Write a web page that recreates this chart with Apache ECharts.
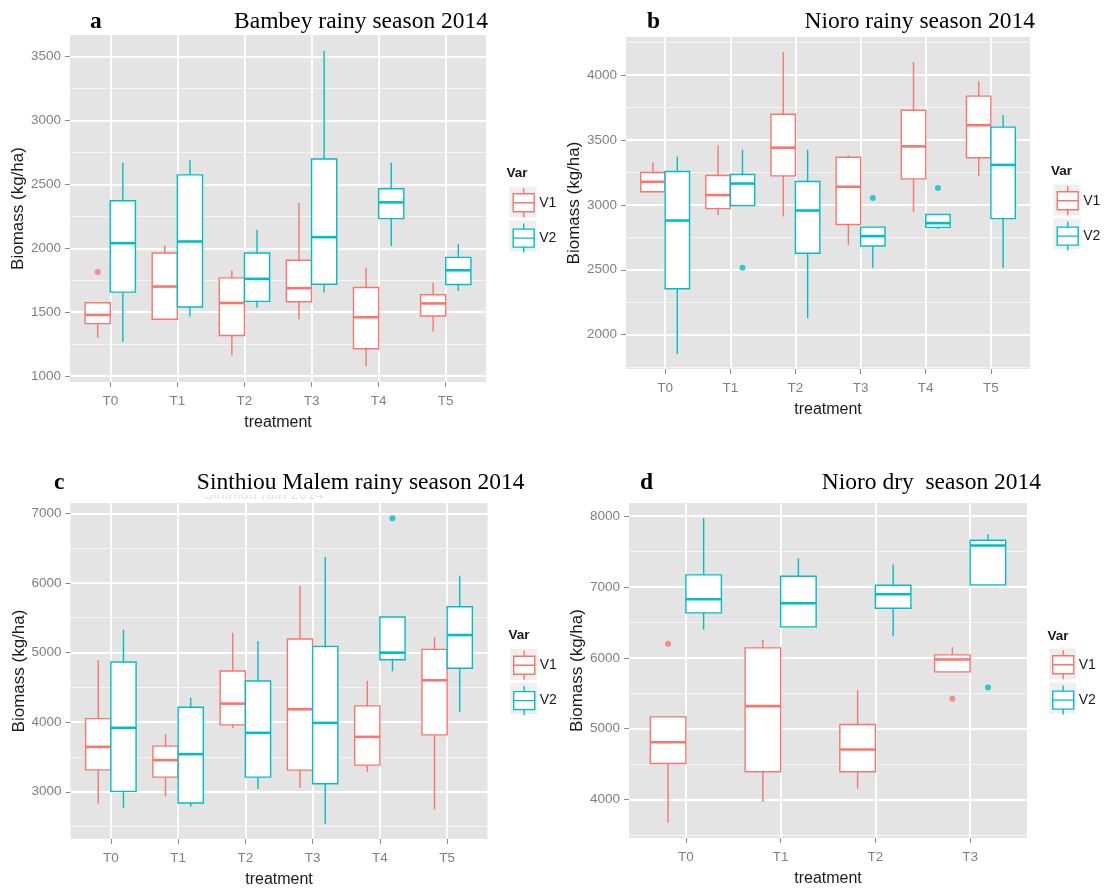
<!DOCTYPE html>
<html>
<head>
<meta charset="utf-8">
<title>Biomass by treatment and variety, 2014</title>
<script src="https://cdn.jsdelivr.net/npm/echarts@6/dist/echarts.min.js"></script>
<style>
  html, body { margin: 0; padding: 0; background: #ffffff; }
  #chart { width: 1112px; height: 889px; }
</style>
</head>
<body>
<div id="chart"></div>
<script>
// Biomass (kg/ha) of two varieties per fertiliser treatment, four trials in 2014.
// Each box row: [lower whisker, Q1, median, Q3, upper whisker]; outliers: [treatment index, value].

const treatments6 = ['T0', 'T1', 'T2', 'T3', 'T4', 'T5'];
const treatments4 = ['T0', 'T1', 'T2', 'T3'];
const varieties = ['V1', 'V2'];

// a — Bambey rainy season
const bambeyV1 = [[1300, 1411, 1479, 1574, 1574], [1445, 1445, 1701, 1963, 2022], [1163, 1318, 1572, 1769, 1826],
                  [1443, 1582, 1688, 1906, 2354], [1078, 1215, 1461, 1694, 1849], [1349, 1471, 1569, 1637, 1732]];
const bambeyV2 = [[1267, 1657, 2040, 2372, 2669], [1466, 1541, 2053, 2574, 2690], [1538, 1585, 1761, 1963, 2144],
                  [1655, 1719, 2087, 2698, 3544], [2017, 2232, 2359, 2465, 2669], [1665, 1717, 1828, 1929, 2035]];
const bambeyV1Out = [[0, 1815]];
const bambeyV2Out = [];
const bambeyTicks = [1000, 1500, 2000, 2500, 3000, 3500];

// b — Nioro rainy season
const nioroV1 = [[3101, 3101, 3177, 3249, 3325], [2920, 2971, 3075, 3226, 3457], [2910, 3223, 3440, 3697, 4176],
                 [2691, 2848, 3139, 3366, 3381], [2945, 3200, 3450, 3728, 4100], [3220, 3363, 3613, 3837, 3952]];
const nioroV2 = [[1852, 2354, 2879, 3256, 3371], [2994, 2994, 3164, 3233, 3424], [2127, 2627, 2956, 3180, 3424],
                 [2515, 2683, 2759, 2828, 2828], [2813, 2826, 2859, 2925, 2925], [2515, 2894, 3307, 3598, 3689]];
const nioroV1Out = [];
const nioroV2Out = [[1, 2515], [3, 3052], [4, 3129]];
const nioroTicks = [2000, 2500, 3000, 3500, 4000];

// c — Sinthiou Malem rainy season
const sinthiouV1 = [[2833, 3315, 3645, 4051, 4893], [2933, 3210, 3454, 3655, 3827], [3913, 3961, 4266, 4735, 5284],
                    [3057, 3311, 4185, 5194, 5958], [3287, 3382, 3789, 4233, 4596], [2747, 3817, 4601, 5045, 5217]];
const sinthiouV2 = [[2766, 3005, 3918, 4864, 5327], [2785, 2838, 3540, 4214, 4352], [3038, 3210, 3846, 4591, 5160],
                    [2541, 3115, 3989, 5088, 6374], [4730, 4897, 4998, 5509, 5509], [4147, 4773, 5251, 5657, 6102]];
const sinthiouV1Out = [];
const sinthiouV2Out = [[4, 6928]];
const sinthiouTicks = [3000, 4000, 5000, 6000, 7000];

// d — Nioro dry season
const nioroDryV1 = [[3671, 4508, 4809, 5167, 5167], [3967, 4391, 5318, 6141, 6254],
                    [4151, 4391, 4706, 5059, 5544], [5802, 5802, 5977, 6042, 6151]];
const nioroDryV2 = [[6400, 6635, 6828, 7172, 7972], [6438, 6438, 6772, 7153, 7407],
                    [6306, 6701, 6899, 7026, 7318], [7031, 7031, 7586, 7661, 7746]];
const nioroDryV1Out = [[0, 6198], [3, 5421]];
const nioroDryV2Out = [[3, 5581]];
const nioroDryTicks = [4000, 5000, 6000, 7000, 8000];

const panelTitles = ['Bambey rainy season 2014', 'Nioro rainy season 2014',
                     'Sinthiou Malem rainy season 2014', 'Nioro dry  season 2014'];
const panelLetters = ['a', 'b', 'c', 'd'];

// ---- styling ----
const COLORS = ['#F8766D', '#00BFC4'];
const PANEL_BG = '#E4E4E4';
const SANS = "'Liberation Sans', Arial, sans-serif";
const SERIF = "'Liberation Serif', 'Times New Roman', serif";
const BOX_WIDTH = 0.375;   // in category units
const DODGE = 0.1875;      // half the dodge width
const LINE_W = 1.4;
const MEDIAN_W = 2.6;

const panels = [
  { cats: treatments6, v1: bambeyV1, v2: bambeyV2, o1: bambeyV1Out, o2: bambeyV2Out, ticks: bambeyTicks,
    grid: { left: 70, right: 626, top: 35, bottom: 507 },
    letter: { left: 90, top: 10 }, title: { right: 624, top: 10 },
    varTitle: { left: 506.5, top: 166 }, keys: { left: 509.5, top: 186.5 } },
  { cats: treatments6, v1: nioroV1, v2: nioroV2, o1: nioroV1Out, o2: nioroV2Out, ticks: nioroTicks,
    grid: { left: 626, right: 82, top: 37, bottom: 520 },
    letter: { left: 647, top: 10 }, title: { right: 77, top: 10 },
    varTitle: { left: 1051, top: 164 }, keys: { left: 1053.5, top: 184.5 } },
  { cats: treatments6, v1: sinthiouV1, v2: sinthiouV2, o1: sinthiouV1Out, o2: sinthiouV2Out, ticks: sinthiouTicks,
    grid: { left: 70.5, right: 624.5, top: 503, bottom: 50 },
    letter: { left: 54, top: 471 }, title: { right: 587.5, top: 471 },
    varTitle: { left: 508.5, top: 628.5 }, keys: { left: 510, top: 649 } },
  { cats: treatments4, v1: nioroDryV1, v2: nioroDryV2, o1: nioroDryV1Out, o2: nioroDryV2Out, ticks: nioroDryTicks,
    grid: { left: 629, right: 85, top: 503, bottom: 51 },
    letter: { left: 640, top: 471 }, title: { right: 71, top: 471 },
    varTitle: { left: 1047.5, top: 629.5 }, keys: { left: 1049, top: 648.5 } }
];

// ggplot-style range: data extent expanded by 5% on each side
function valueRange(p) {
  const vals = [];
  [p.v1, p.v2].forEach(rows => rows.forEach(r => vals.push(r[0], r[4])));
  [p.o1, p.o2].forEach(list => list.forEach(o => vals.push(o[1])));
  const lo = Math.min(...vals), hi = Math.max(...vals);
  const pad = (hi - lo) * 0.05;
  return [lo - pad, hi + pad];
}

function minorValues(ticks, range) {
  const step = ticks[1] - ticks[0];
  const out = ticks.map(t => t - step / 2).concat([ticks[ticks.length - 1] + step / 2]);
  return out.filter(v => v > range[0] && v < range[1]);
}

function boxRenderer(color) {
  return function (params, api) {
    const x = api.value(0);
    const lo = api.coord([x, api.value(1)]);
    const q1 = api.coord([x, api.value(2)]);
    const md = api.coord([x, api.value(3)]);
    const q3 = api.coord([x, api.value(4)]);
    const hi = api.coord([x, api.value(5)]);
    const w = api.size([BOX_WIDTH, 0])[0];
    const left = q3[0] - w / 2;
    return {
      type: 'group',
      children: [
        { type: 'line', shape: { x1: lo[0], y1: lo[1], x2: q1[0], y2: q1[1] }, style: { stroke: color, lineWidth: LINE_W } },
        { type: 'line', shape: { x1: q3[0], y1: q3[1], x2: hi[0], y2: hi[1] }, style: { stroke: color, lineWidth: LINE_W } },
        { type: 'rect', shape: { x: left, y: q3[1], width: w, height: q1[1] - q3[1] },
          style: { fill: '#ffffff', stroke: color, lineWidth: LINE_W } },
        { type: 'line', shape: { x1: left, y1: md[1], x2: left + w, y2: md[1] }, style: { stroke: color, lineWidth: MEDIAN_W } }
      ]
    };
  };
}

const LEGEND_GLYPH = 'path://M10.5,0L10.5,5.5M0,5.5L21,5.5L21,23.5L0,23.5ZM0,14.5L21,14.5M10.5,23.5L10.5,29';

const option = {
  backgroundColor: '#ffffff',
  animation: false,
  grid: [], xAxis: [], yAxis: [], series: [], title: [], legend: [],
  graphic: []
};

panels.forEach((p, k) => {
  const range = valueRange(p);
  const idx = p.cats.map((c, i) => i);

  option.grid.push(Object.assign({ show: true, backgroundColor: PANEL_BG, borderWidth: 0, containLabel: false }, p.grid));

  option.xAxis.push({
    type: 'value', gridIndex: k, min: -0.6, max: p.cats.length - 0.4, position: 'bottom',
    name: 'treatment', nameLocation: 'middle', nameGap: 33,
    nameTextStyle: { fontFamily: SANS, fontSize: 16, color: '#1a1a1a' },
    axisLine: { show: false, onZero: false },
    axisTick: { show: true, inside: false, customValues: idx, length: 5, lineStyle: { color: '#8a8a8a', width: 1 } },
    axisLabel: { customValues: idx, formatter: v => p.cats[Math.round(v)], margin: 12,
                 fontFamily: SANS, fontSize: 13.5, color: '#7f7f7f' },
    splitLine: { show: true, lineStyle: { color: '#ffffff', width: 1.8 } }
  });

  // major y ticks, labels and grid lines
  option.yAxis.push({
    type: 'value', gridIndex: k, min: range[0], max: range[1], position: 'left',
    name: 'Biomass (kg/ha)', nameLocation: 'middle', nameGap: 34,
    nameTextStyle: { fontFamily: SANS, fontSize: 17, color: '#1a1a1a' },
    axisLine: { show: false, onZero: false },
    axisTick: { show: true, inside: false, customValues: p.ticks, length: 5, lineStyle: { color: '#8a8a8a', width: 1 } },
    axisLabel: { customValues: p.ticks, formatter: v => String(v), margin: 9,
                 fontFamily: SANS, fontSize: 13.5, color: '#7f7f7f' },
    splitLine: { show: true, lineStyle: { color: '#ffffff', width: 1.8 } }
  });
  // minor y grid lines
  const minors = minorValues(p.ticks, range);
  option.yAxis.push({
    type: 'value', gridIndex: k, min: range[0], max: range[1], position: 'left',
    axisLine: { show: false, onZero: false },
    axisTick: { show: false, customValues: minors },
    axisLabel: { show: false, customValues: minors },
    splitLine: { show: true, lineStyle: { color: '#F4F4F4', width: 1 } }
  });

  [[p.v1, p.o1, -DODGE], [p.v2, p.o2, DODGE]].forEach(([rows, outs, off], j) => {
    option.series.push({
      type: 'custom', name: varieties[j], xAxisIndex: k, yAxisIndex: 2 * k,
      itemStyle: { color: COLORS[j], borderColor: COLORS[j] },
      encode: { x: 0, y: [1, 2, 3, 4, 5] },
      data: rows.map((r, i) => [i + off].concat(r)),
      renderItem: boxRenderer(COLORS[j]), z: 3
    });
    option.series.push({
      type: 'scatter', name: varieties[j], xAxisIndex: k, yAxisIndex: 2 * k,
      symbol: 'circle', symbolSize: 6, itemStyle: { color: COLORS[j] },
      data: outs.map(o => [o[0] + off, o[1]]), z: 4
    });
  });

  option.title.push({
    text: panelLetters[k], left: p.letter.left, top: p.letter.top, padding: 0,
    textStyle: { fontFamily: SERIF, fontWeight: 'bold', fontSize: 23.5, color: '#000000' }
  });
  option.title.push({
    text: panelTitles[k], right: p.title.right, top: p.title.top, padding: 0,
    textStyle: { fontFamily: SERIF, fontWeight: 'normal', fontSize: 23.5, color: '#000000' }
  });
  option.title.push({
    text: 'Var', left: p.varTitle.left, top: p.varTitle.top, padding: 0,
    textStyle: { fontFamily: SANS, fontWeight: 'bold', fontSize: 13.5, color: '#1a1a1a' }
  });

  // legend key backgrounds
  option.legend.push({
    orient: 'vertical', left: p.keys.left, top: p.keys.top, padding: 0,
    itemWidth: 27, itemHeight: 31, itemGap: 3, icon: 'rect', selectedMode: false,
    data: varieties.map(n => ({ name: n, itemStyle: { color: '#EFEFEF', borderWidth: 0 } })),
    textStyle: { color: 'rgba(0,0,0,0)', fontSize: 14 }, z: 1
  });
  // legend boxplot glyphs and labels
  option.legend.push({
    orient: 'vertical', left: p.keys.left + 3, top: p.keys.top + 1, padding: 0,
    itemWidth: 21, itemHeight: 29, itemGap: 5, icon: LEGEND_GLYPH, selectedMode: false,
    data: varieties.map((n, i) => ({ name: n, itemStyle: { color: '#ffffff', borderColor: COLORS[i], borderWidth: 1.4 } })),
    textStyle: { fontFamily: SANS, fontSize: 14, color: '#1a1a1a' }, z: 2
  });
});

// faint remnant of an earlier caption under panel c's heading, mostly hidden
option.graphic.push({
  type: 'text', left: 203, top: 487, z: 0,
  style: { text: 'Sinthiou rain 2014', font: "15px 'Liberation Sans', Arial, sans-serif", fill: '#e2e2e2' }
});
option.graphic.push({
  type: 'rect', left: 190, top: 466, z: 1,
  shape: { width: 180, height: 29 }, style: { fill: '#ffffff' }
});

const chart = echarts.init(document.getElementById('chart'), null, { renderer: 'canvas' });
chart.setOption(option);
</script>
</body>
</html>
